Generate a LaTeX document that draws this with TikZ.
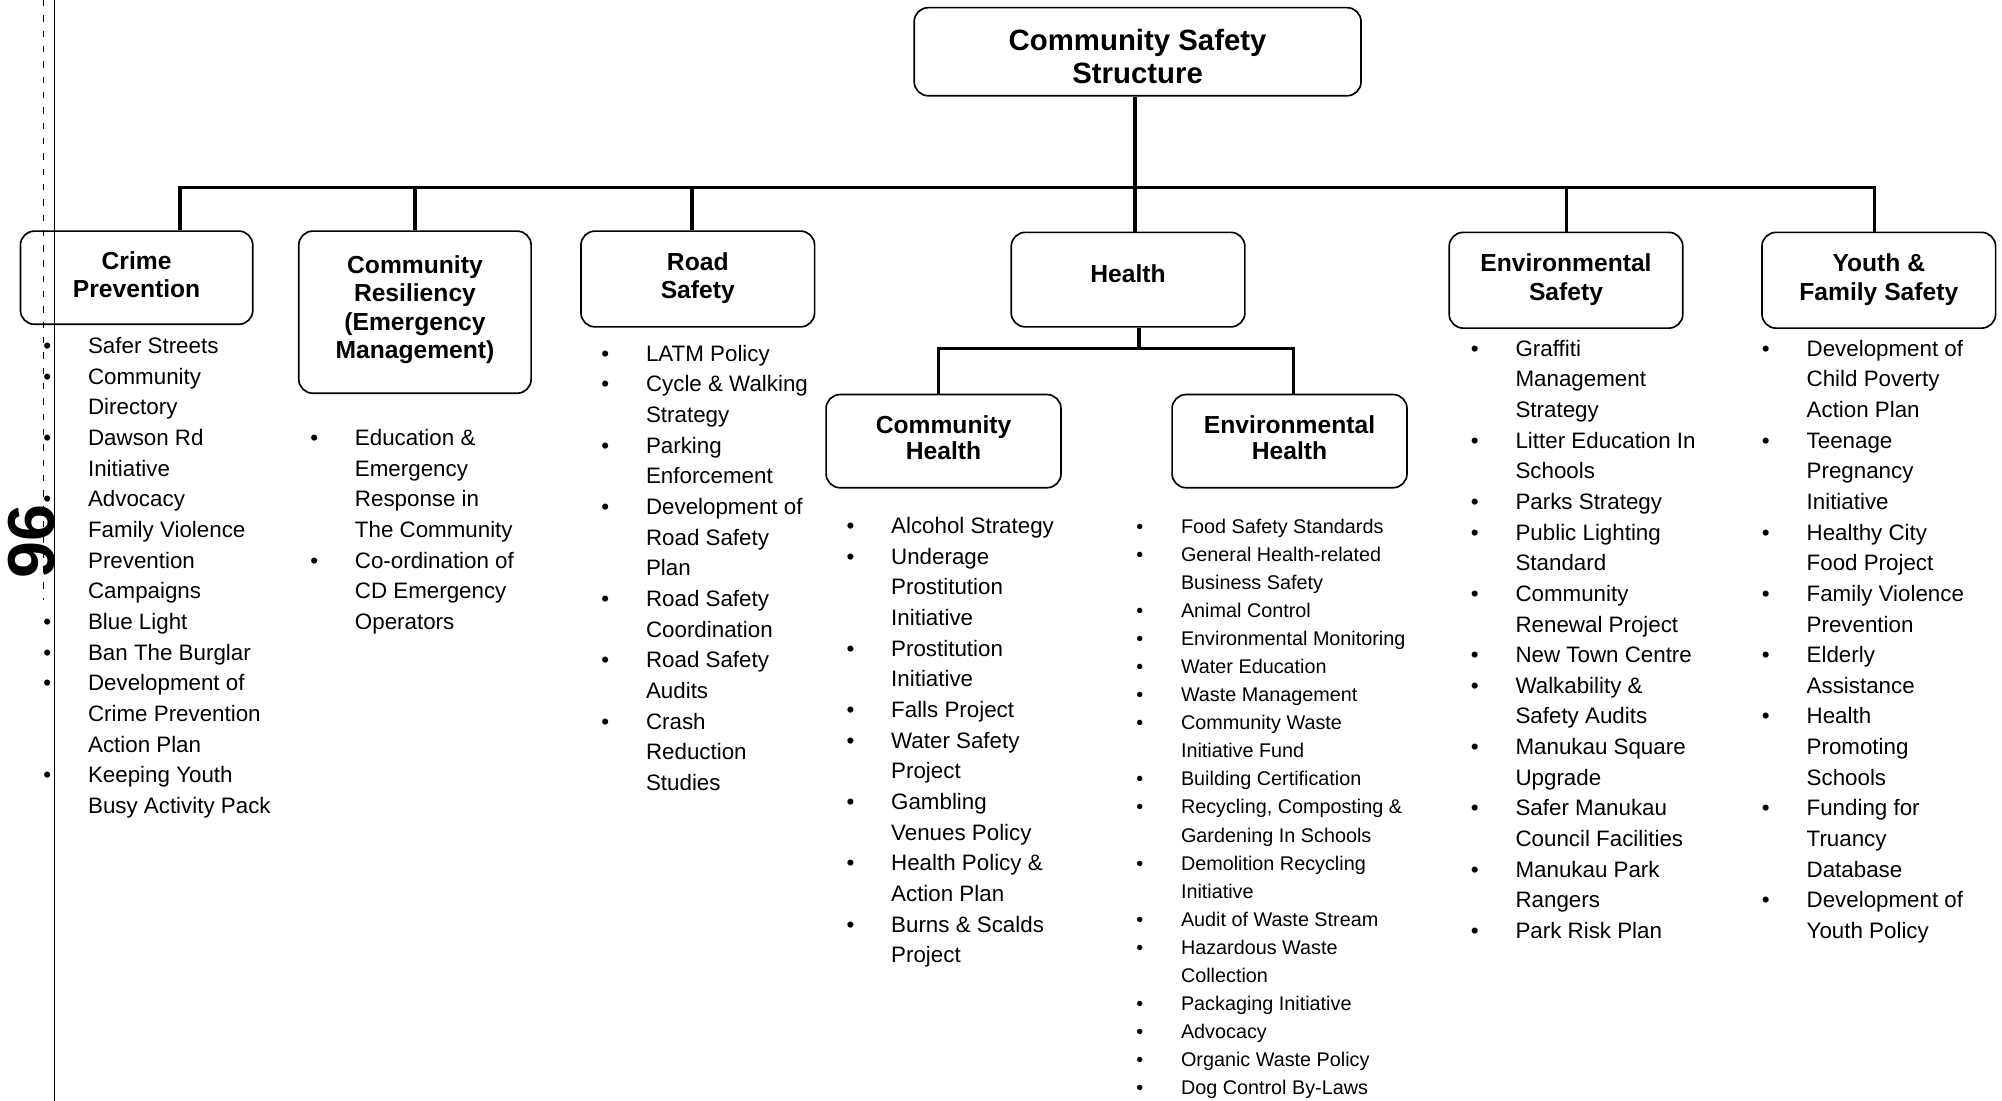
\documentclass[tikz,border=0pt]{standalone}
\usepackage{fontspec}
\setmainfont{Liberation Sans}
\newcommand\myTitleFont{\fontsize{19.3}{22.3}\selectfont\bfseries}
\newcommand\mySubTitleFont{\fontsize{19.3}{20.5}\selectfont\bfseries}
\newcommand\myTopFont{\fontsize{23}{26}\selectfont\bfseries}
\newcommand\myListFont{\fontsize{17.5}{24}\selectfont}
\newcommand\mySmallListFont{\fontsize{15.5}{22}\selectfont}
\newcommand\itm[1]{\strut\makebox[35pt][l]{\textbullet}#1}
\newcommand\cnt[1]{\strut\hspace*{35pt}#1}
\tikzset{
  box/.style={draw, line width=1.3pt, rounded corners=11pt, minimum width=183pt,
    align=center, font=\myTitleFont, inner sep=2pt},
  conn/.style={line width=2.6pt},
  lst/.style={anchor=north west, inner sep=0pt, outer sep=0pt, align=left, font=\myListFont},
  edgeline/.style={line width=0.7pt},
}
\begin{document}
\begin{tikzpicture}[x=1pt,y=-1pt]
\fill[white] (0,0) rectangle (1568,862);
\useasboundingbox (0,0) rectangle (1568,862);

% page edge of the scan
\coordinate (edgeTop) at (43,0);
\coordinate (edgeBot) at (43,862);
\draw[edgeline] (edgeTop) -- (edgeBot);
\coordinate (dashTop) at (34,0);
\coordinate (dashBot) at (34,470);
\draw[line width=0.5pt, dash pattern=on 5pt off 7pt] (dashTop) -- (dashBot);

% boxes
\node[box, minimum width=350pt, minimum height=69pt, font=\myTopFont] (top) at (891,40.5) {\rule{0pt}{24.5pt}Community Safety\\Structure};
\node[box, minimum width=182pt, minimum height=73pt] (crime) at (107,217.5) {Crime\\Prevention\rule[-5pt]{0pt}{0pt}};
\node[box, minimum width=182pt, minimum height=127pt] (res) at (325,244.5) {Community\\Resiliency\\(Emergency\\Management)\rule[-8pt]{0pt}{0pt}};
\node[box, minimum height=75pt] (road) at (546.5,218.5) {Road\\Safety\rule[-5pt]{0pt}{0pt}};
\node[box, minimum height=74pt] (health) at (883.5,219) {Health\rule[-9pt]{0pt}{0pt}};
\node[box, minimum height=75pt] (envs) at (1226.5,219.5) {Environmental\\Safety\rule[-5pt]{0pt}{0pt}};
\node[box, minimum height=75pt] (youth) at (1471.5,219.5) {Youth \&\\Family Safety\rule[-5pt]{0pt}{0pt}};
\node[box, minimum width=184pt, minimum height=73pt, font=\mySubTitleFont] (chealth) at (739,345.5) {Community\\Health\rule[-6pt]{0pt}{0pt}};
\node[box, minimum width=184pt, minimum height=73pt, font=\mySubTitleFont] (ehealth) at (1010,345.5) {Environmental\\Health\rule[-6pt]{0pt}{0pt}};

% connectors
\coordinate (busL) at (141,147);
\coordinate (busR) at (1468,147);
\coordinate (jRes) at (325,147);
\coordinate (jRoad) at (542,147);
\coordinate (jHealth) at (889,147);
\coordinate (jEnv) at (1227,147);
\draw[conn] (top.south -| jHealth) -- (jHealth);
\draw[conn] (busL |- crime.north) -- (busL) -- (busR) -- (busR |- youth.north);
\draw[conn] (jRes) -- (jRes |- res.north);
\draw[conn] (jRoad) -- (jRoad |- road.north);
\draw[conn] (jHealth) -- (jHealth |- health.north);
\draw[conn] (jEnv) -- (jEnv |- envs.north);
\coordinate (hBus) at (892,273);
\coordinate (hL) at (735,273);
\coordinate (hR) at (1013,273);
\draw[conn] (health.south -| hBus) -- (hBus);
\draw[conn] (hL |- chealth.north) -- (hL) -- (hR) -- (hR |- ehealth.north);

% lists
\node[lst] (crimeL) at (34,260.2) {%
\itm{Safer Streets}\\
\itm{Community}\\
\cnt{Directory}\\
\itm{Dawson Rd}\\
\cnt{Initiative}\\
\itm{Advocacy}\\
\itm{Family Violence}\\
\cnt{Prevention}\\
\cnt{Campaigns}\\
\itm{Blue Light}\\
\itm{Ban The Burglar}\\
\itm{Development of}\\
\cnt{Crime Prevention}\\
\cnt{Action Plan}\\
\itm{Keeping Youth}\\
\cnt{Busy Activity Pack}};

\node[lst] (resL) at (243,332.2) {%
\itm{Education \&}\\
\cnt{Emergency}\\
\cnt{Response in}\\
\cnt{The Community}\\
\itm{Co-ordination of}\\
\cnt{CD Emergency}\\
\cnt{Operators}};

\node[lst] (roadL) at (471,266.2) {%
\itm{LATM Policy}\\
\itm{Cycle \& Walking}\\
\cnt{Strategy}\\
\itm{Parking}\\
\cnt{Enforcement}\\
\itm{Development of}\\
\cnt{Road Safety}\\
\cnt{Plan}\\
\itm{Road Safety}\\
\cnt{Coordination}\\
\itm{Road Safety}\\
\cnt{Audits}\\
\itm{Crash}\\
\cnt{Reduction}\\
\cnt{Studies}};

\node[lst] (chealthL) at (663,401.2) {%
\itm{Alcohol Strategy}\\
\itm{Underage}\\
\cnt{Prostitution}\\
\cnt{Initiative}\\
\itm{Prostitution}\\
\cnt{Initiative}\\
\itm{Falls Project}\\
\itm{Water Safety}\\
\cnt{Project}\\
\itm{Gambling}\\
\cnt{Venues Policy}\\
\itm{Health Policy \&}\\
\cnt{Action Plan}\\
\itm{Burns \& Scalds}\\
\cnt{Project}};

\node[lst, font=\mySmallListFont] (ehealthL) at (890,402.1) {%
\itm{Food Safety Standards}\\
\itm{General Health-related}\\
\cnt{Business Safety}\\
\itm{Animal Control}\\
\itm{Environmental Monitoring}\\
\itm{Water Education}\\
\itm{Waste Management}\\
\itm{Community Waste}\\
\cnt{Initiative Fund}\\
\itm{Building Certification}\\
\itm{Recycling, Composting \&}\\
\cnt{Gardening In Schools}\\
\itm{Demolition Recycling}\\
\cnt{Initiative}\\
\itm{Audit of Waste Stream}\\
\itm{Hazardous Waste}\\
\cnt{Collection}\\
\itm{Packaging Initiative}\\
\itm{Advocacy}\\
\itm{Organic Waste Policy}\\
\itm{Dog Control By-Laws}};

\node[lst] (envsL) at (1152,262.2) {%
\itm{Graffiti}\\
\cnt{Management}\\
\cnt{Strategy}\\
\itm{Litter Education In}\\
\cnt{Schools}\\
\itm{Parks Strategy}\\
\itm{Public Lighting}\\
\cnt{Standard}\\
\itm{Community}\\
\cnt{Renewal Project}\\
\itm{New Town Centre}\\
\itm{Walkability \&}\\
\cnt{Safety Audits}\\
\itm{Manukau Square}\\
\cnt{Upgrade}\\
\itm{Safer Manukau}\\
\cnt{Council Facilities}\\
\itm{Manukau Park}\\
\cnt{Rangers}\\
\itm{Park Risk Plan}};

\node[lst] (youthL) at (1380,262.2) {%
\itm{Development of}\\
\cnt{Child Poverty}\\
\cnt{Action Plan}\\
\itm{Teenage}\\
\cnt{Pregnancy}\\
\cnt{Initiative}\\
\itm{Healthy City}\\
\cnt{Food Project}\\
\itm{Family Violence}\\
\cnt{Prevention}\\
\itm{Elderly}\\
\cnt{Assistance}\\
\itm{Health}\\
\cnt{Promoting}\\
\cnt{Schools}\\
\itm{Funding for}\\
\cnt{Truancy}\\
\cnt{Database}\\
\itm{Development of}\\
\cnt{Youth Policy}};

% page number
\node[rotate=90, font=\fontsize{52}{52}\selectfont\bfseries, inner sep=0pt] (pageno) at (24.5,424) {96};
\end{tikzpicture}
\end{document}
